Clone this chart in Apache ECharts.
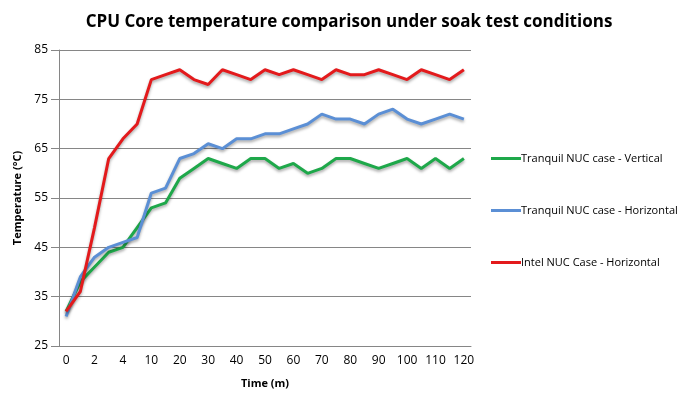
<!DOCTYPE html>
<html>
<head>
  <meta charset="UTF-8">
  <title>CPU Core temperature comparison</title>
  <script src="https://cdn.jsdelivr.net/npm/echarts@6/dist/echarts.min.js"></script>
  <style>
    html, body { margin: 0; padding: 0; background: #fff; }
    #main { width: 698px; height: 397px; }
  </style>
</head>
<body>
  <div id="main"></div>
  <script>
    // time in minutes (categories), only every other one is labelled
    const times = ['0', '1', '2', '3', '4', '5', '10', '15', '20', '25', '30', '35', '40', '45', '50',
      '55', '60', '65', '70', '75', '80', '85', '90', '95', '100', '105', '110', '115', '120'];

    const tranquilVertical = [32, 38, 41, 44, 45, 49, 53, 54, 59, 61, 63, 62, 61, 63, 63,
      61, 62, 60, 61, 63, 63, 62, 61, 62, 63, 61, 63, 61, 63];
    const tranquilHorizontal = [31, 39, 43, 45, 46, 47, 56, 57, 63, 64, 66, 65, 67, 67, 68,
      68, 69, 70, 72, 71, 71, 70, 72, 73, 71, 70, 71, 72, 71];
    const intelHorizontal = [32, 36, 49, 63, 67, 70, 79, 80, 81, 79, 78, 81, 80, 79, 81,
      80, 81, 80, 79, 81, 80, 80, 81, 80, 79, 81, 80, 79, 81];

    const seriesNames = ['Tranquil NUC case - Vertical', 'Tranquil NUC case - Horizontal', 'Intel NUC Case - Horizontal'];
    const seriesColors = ['#1ea84a', '#5b8fd5', '#e31a1c'];
    const seriesData = [tranquilVertical, tranquilHorizontal, intelHorizontal];

    const font = '"Open Sans", "Liberation Sans", sans-serif';
    const chart = echarts.init(document.getElementById('main'));

    chart.setOption({
      animation: false,
      title: {
        text: 'CPU Core temperature comparison under soak test conditions',
        left: 'center',
        top: 9,
        textStyle: { fontFamily: font, fontWeight: 'bold', fontSize: 17, color: '#000' }
      },
      legend: {
        orient: 'vertical',
        left: 486,
        top: 148,
        itemGap: 41,
        itemWidth: 30,
        itemHeight: 3,
        icon: 'rect',
        data: seriesNames,
        textStyle: { fontFamily: font, fontSize: 11, color: '#000', padding: [0, 0, 0, -5] }
      },
      grid: { left: 59, right: 227, top: 50, bottom: 51 },
      xAxis: {
        type: 'category',
        data: times,
        name: 'Time (m)',
        nameLocation: 'middle',
        nameGap: 32,
        nameTextStyle: { fontFamily: font, fontWeight: 'bold', fontSize: 11, color: '#000' },
        axisLine: { lineStyle: { color: '#868686' } },
        axisTick: { length: 5, lineStyle: { color: '#868686' } },
        axisLabel: { interval: 1, fontFamily: font, fontSize: 12, color: '#000', margin: 9 }
      },
      yAxis: {
        type: 'value',
        min: 25,
        max: 85,
        interval: 10,
        name: 'Temperature (°C)',
        nameLocation: 'middle',
        nameGap: 30,
        nameTextStyle: { fontFamily: font, fontWeight: 'bold', fontSize: 11, color: '#000' },
        axisLine: { show: true, lineStyle: { color: '#868686' } },
        axisTick: { show: true, length: 8, lineStyle: { color: '#868686' } },
        axisLabel: { fontFamily: font, fontSize: 12, color: '#000', margin: 11 },
        splitLine: { lineStyle: { color: '#868686' } }
      },
      series: seriesData.map((d, i) => ({
        name: seriesNames[i],
        type: 'line',
        data: d,
        symbol: 'none',
        color: seriesColors[i],
        lineStyle: {
          width: 3,
          color: seriesColors[i],
          shadowColor: 'rgba(0,0,0,0.35)',
          shadowBlur: 3,
          shadowOffsetY: 2
        }
      }))
    });
  </script>
</body>
</html>
